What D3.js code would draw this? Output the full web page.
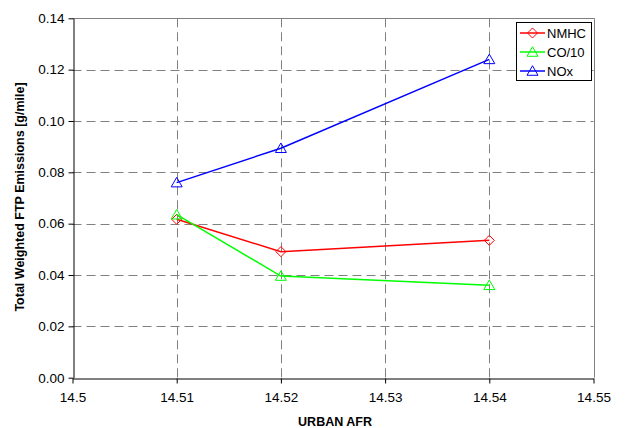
<!DOCTYPE html>
<html>
<head>
<meta charset="utf-8">
<script src="https://cdn.jsdelivr.net/npm/d3@7/dist/d3.min.js"></script>
<style>
  html, body { margin: 0; padding: 0; background: #fff; }
  svg { display: block; font-family: "Liberation Sans", Arial, sans-serif; }
</style>
</head>
<body>
<svg id="chart" width="626" height="428"></svg>
<script>
// Urban air/fuel ratio settings and measured emissions
const afr = [14.51, 14.52, 14.54];
const nmhc = [0.0617, 0.0491, 0.0535];
const co10 = [0.0635, 0.0396, 0.0360];
const nox = [0.0760, 0.0894, 0.1240];

const xTicks = [14.5, 14.51, 14.52, 14.53, 14.54, 14.55];
const yTicks = [0, 0.02, 0.04, 0.06, 0.08, 0.10, 0.12, 0.14];

const series = [
  { name: "NMHC", values: nmhc, color: "#ff0000", marker: "diamond" },
  { name: "CO/10", values: co10, color: "#00ff00", marker: "triangle" },
  { name: "NOx", values: nox, color: "#0000ff", marker: "triangle" }
];

const svg = d3.select("#chart");
const plot = { left: 72.5, right: 593.5, top: 18.3, bottom: 377.7 };

const x = d3.scaleLinear().domain([14.5, 14.55]).range([plot.left, plot.right]);
const y = d3.scaleLinear().domain([0, 0.14]).range([plot.bottom, plot.top]);

// dashed grid
const grid = svg.append("g").attr("stroke", "#808080").attr("stroke-width", 1)
  .attr("stroke-dasharray", "9,5");
grid.selectAll("line.h").data(yTicks.slice(1, -1)).enter().append("line")
  .attr("x1", plot.left).attr("x2", plot.right)
  .attr("y1", d => Math.round(y(d)) + 0.5).attr("y2", d => Math.round(y(d)) + 0.5);
grid.selectAll("line.v").data(xTicks.slice(1, -1)).enter().append("line")
  .attr("y1", plot.top).attr("y2", plot.bottom)
  .attr("x1", d => Math.round(x(d)) + 0.5).attr("x2", d => Math.round(x(d)) + 0.5);

// plot-area frame (top and right)
svg.append("path")
  .attr("d", `M${plot.left},${Math.round(plot.top) + 0.5}H${Math.round(plot.right) + 0.5}V${plot.bottom}`)
  .attr("fill", "none").attr("stroke", "#808080").attr("stroke-width", 1);

// axes
const fmtY = d3.format(".2f");
const yAxis = d3.axisLeft(y).tickValues(yTicks).tickFormat(fmtY).tickSizeInner(5).tickSizeOuter(0).tickPadding(4);
const xAxis = d3.axisBottom(x).tickValues(xTicks).tickFormat(d => String(+d.toFixed(2))).tickSizeInner(5).tickSizeOuter(0).tickPadding(9);

const gy = svg.append("g").attr("transform", `translate(${Math.round(plot.left) + 0.5},0)`).call(yAxis);
const gx = svg.append("g").attr("transform", `translate(0,${Math.round(plot.bottom) + 0.5})`).call(xAxis);
[gx, gy].forEach(g => {
  g.selectAll("path, line").attr("stroke", "#000").attr("stroke-width", 1);
  g.selectAll("text").attr("font-size", "13.5px").attr("fill", "#000")
    .attr("font-family", "'Liberation Sans', Arial, sans-serif");
});

// axis titles
svg.append("text")
  .attr("x", 335).attr("y", 426)
  .attr("text-anchor", "middle").attr("font-size", "12.5px").attr("font-weight", "bold")
  .text("URBAN AFR");
svg.append("text")
  .attr("transform", "translate(24,197) rotate(-90)")
  .attr("text-anchor", "middle").attr("font-size", "12.5px").attr("font-weight", "bold")
  .text("Total Weighted FTP Emissions [g/mile]");

// marker shapes
function markerPath(type, cx, cy) {
  if (type === "diamond") {
    const r = 5;
    return `M${cx},${cy - r}L${cx + r},${cy}L${cx},${cy + r}L${cx - r},${cy}Z`;
  }
  const w = 5.5, h = 9.5;
  return `M${cx},${cy - h * 0.55}L${cx + w},${cy + h * 0.45}L${cx - w},${cy + h * 0.45}Z`;
}

const line = d3.line().x(d => x(d[0])).y(d => y(d[1]));

series.forEach(s => {
  const pts = afr.map((a, i) => [a, s.values[i]]);
  svg.append("path").datum(pts)
    .attr("d", line).attr("fill", "none")
    .attr("stroke", s.color).attr("stroke-width", 1.5);
  svg.selectAll(null).data(pts).enter().append("path")
    .attr("d", d => markerPath(s.marker, x(d[0]), y(d[1])))
    .attr("fill", "none").attr("stroke", s.color).attr("stroke-width", 1);
});

// legend
const lg = svg.append("g");
lg.append("rect").attr("x", 516.5).attr("y", 22.5).attr("width", 75).attr("height", 58)
  .attr("fill", "#fff").attr("stroke", "#000").attr("stroke-width", 1);
series.forEach((s, i) => {
  const cy = 33 + i * 19;
  lg.append("line").attr("x1", 520).attr("x2", 545).attr("y1", cy).attr("y2", cy)
    .attr("stroke", s.color).attr("stroke-width", 1.5);
  lg.append("path").attr("d", markerPath(s.marker, 532.5, cy))
    .attr("fill", "none").attr("stroke", s.color).attr("stroke-width", 1);
  lg.append("text").attr("x", 547).attr("y", cy + 4.5)
    .attr("font-size", "13px").attr("fill", "#000").text(s.name);
});
</script>
</body>
</html>
